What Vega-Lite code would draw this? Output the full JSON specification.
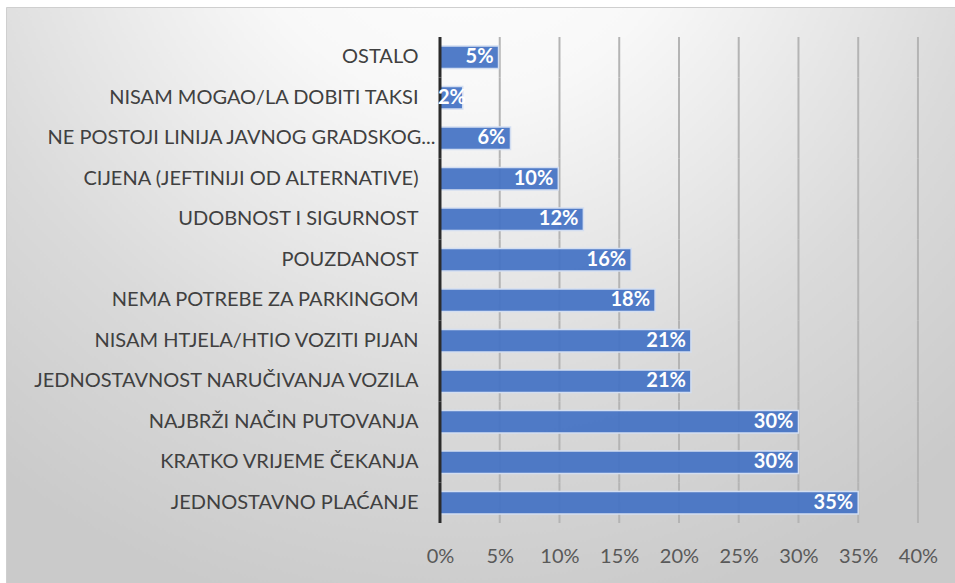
{
  "$schema": "https://vega.github.io/schema/vega-lite/v6.json",
  "autosize": {"type": "none"},
  "width": 949,
  "height": 576,
  "padding": {"left": 6, "top": 7, "right": 0, "bottom": 0},
  "background": "#ffffff",
  "config": {
    "view": {
      "fill": {
        "gradient": "radial",
        "x1": 0.48, "y1": 0.05, "r1": 0,
        "x2": 0.48, "y2": 0.05, "r2": 0.8,
        "stops": [
          {"offset": 0, "color": "#ffffff"},
          {"offset": 0.3, "color": "#f8f8f8"},
          {"offset": 0.7, "color": "#dadada"},
          {"offset": 1, "color": "#cacaca"}
        ]
      },
      "stroke": "#cfcfcf",
      "strokeWidth": 1
    },
    "font": "Lato"
  },
  "data": {
    "values": [
      {"cat": "OSTALO", "value": 0.049},
      {"cat": "NISAM MOGAO/LA DOBITI TAKSI", "value": 0.019},
      {"cat": "NE POSTOJI LINIJA JAVNOG GRADSKOG...", "value": 0.059},
      {"cat": "CIJENA (JEFTINIJI OD ALTERNATIVE)", "value": 0.099},
      {"cat": "UDOBNOST I SIGURNOST", "value": 0.12},
      {"cat": "POUZDANOST", "value": 0.16},
      {"cat": "NEMA POTREBE ZA PARKINGOM", "value": 0.18},
      {"cat": "NISAM HTJELA/HTIO VOZITI PIJAN", "value": 0.21},
      {"cat": "JEDNOSTAVNOST NARUČIVANJA VOZILA", "value": 0.21},
      {"cat": "NAJBRŽI NAČIN PUTOVANJA", "value": 0.30},
      {"cat": "KRATKO VRIJEME ČEKANJA", "value": 0.30},
      {"cat": "JEDNOSTAVNO PLAĆANJE", "value": 0.35}
    ]
  },
  "encoding": {
    "y": {
      "field": "cat",
      "type": "nominal",
      "sort": null,
      "scale": {
        "domain": [
          "OSTALO",
          "NISAM MOGAO/LA DOBITI TAKSI",
          "NE POSTOJI LINIJA JAVNOG GRADSKOG...",
          "CIJENA (JEFTINIJI OD ALTERNATIVE)",
          "UDOBNOST I SIGURNOST",
          "POUZDANOST",
          "NEMA POTREBE ZA PARKINGOM",
          "NISAM HTJELA/HTIO VOZITI PIJAN",
          "JEDNOSTAVNOST NARUČIVANJA VOZILA",
          "NAJBRŽI NAČIN PUTOVANJA",
          "KRATKO VRIJEME ČEKANJA",
          "JEDNOSTAVNO PLAĆANJE",
          " "
        ],
        "paddingInner": 0.444,
        "paddingOuter": 0.833,
        "align": 0.578
      },
      "axis": {
        "orient": "left",
        "offset": -434,
        "title": null,
        "domain": false,
        "ticks": false,
        "grid": false,
        "labelPadding": {"condition": {"test": "datum.value === 'NE POSTOJI LINIJA JAVNOG GRADSKOG...'", "value": 5}, "value": 22},
        "labelFontSize": 20,
        "labelColor": "#404040",
        "labelLimit": 600,
        "labelFont": "Lato"
      }
    }
  },
  "layer": [
    {"mark": {"type": "tick", "size": 40.5, "thickness": 2, "color": "#b4b4b4", "opacity": 1}, "encoding": {"x": {"datum": 0.05, "type": "quantitative"}}},
    {"mark": {"type": "tick", "size": 40.5, "thickness": 2, "color": "#b4b4b4", "opacity": 1}, "encoding": {"x": {"datum": 0.10, "type": "quantitative"}}},
    {"mark": {"type": "tick", "size": 40.5, "thickness": 2, "color": "#b4b4b4", "opacity": 1}, "encoding": {"x": {"datum": 0.15, "type": "quantitative"}}},
    {"mark": {"type": "tick", "size": 40.5, "thickness": 2, "color": "#b4b4b4", "opacity": 1}, "encoding": {"x": {"datum": 0.20, "type": "quantitative"}}},
    {"mark": {"type": "tick", "size": 40.5, "thickness": 2, "color": "#b4b4b4", "opacity": 1}, "encoding": {"x": {"datum": 0.25, "type": "quantitative"}}},
    {"mark": {"type": "tick", "size": 40.5, "thickness": 2, "color": "#b4b4b4", "opacity": 1}, "encoding": {"x": {"datum": 0.30, "type": "quantitative"}}},
    {"mark": {"type": "tick", "size": 40.5, "thickness": 2, "color": "#b4b4b4", "opacity": 1}, "encoding": {"x": {"datum": 0.35, "type": "quantitative"}}},
    {"mark": {"type": "tick", "size": 40.5, "thickness": 2, "color": "#b4b4b4", "opacity": 1}, "encoding": {"x": {"datum": 0.40, "type": "quantitative"}}},
    {
      "mark": {"type": "bar", "color": "#4472c4", "fillOpacity": 0.93, "stroke": "#d3def1", "strokeWidth": 1.5},
      "encoding": {
        "x": {
          "field": "value",
          "type": "quantitative",
          "scale": {"domain": [-0.3632, 0.431], "nice": false, "zero": false},
          "axis": {
            "orient": "bottom",
            "offset": -37,
            "values": [0, 0.05, 0.1, 0.15, 0.2, 0.25, 0.3, 0.35, 0.4],
            "format": ".0%",
            "title": null,
            "domain": false,
            "ticks": false,
            "grid": false,
            "labelPadding": 0,
            "labelFontSize": 20,
            "labelColor": "#595959",
            "labelFont": "Lato"
          }
        }
      }
    },
    {"mark": {"type": "tick", "size": 40.5, "thickness": 3, "color": "#2b2b2b", "opacity": 1}, "encoding": {"x": {"datum": 0, "type": "quantitative"}}},
    {
      "transform": [{"filter": "datum.value >= 0.03"}],
      "mark": {"type": "text", "align": "right", "baseline": "middle", "dx": -5, "color": "#ffffff", "fontWeight": "bold", "fontSize": 20, "font": "Lato"},
      "encoding": {
        "x": {"field": "value", "type": "quantitative"},
        "text": {"field": "value", "type": "quantitative", "format": ".0%"}
      }
    },
    {
      "transform": [{"filter": "datum.value < 0.03"}],
      "mark": {"type": "text", "align": "left", "baseline": "middle", "dx": -2, "color": "#ffffff", "fontWeight": "bold", "fontSize": 20, "font": "Lato"},
      "encoding": {
        "x": {"datum": 0, "type": "quantitative"},
        "text": {"field": "value", "type": "quantitative", "format": ".0%"}
      }
    }
  ]
}
